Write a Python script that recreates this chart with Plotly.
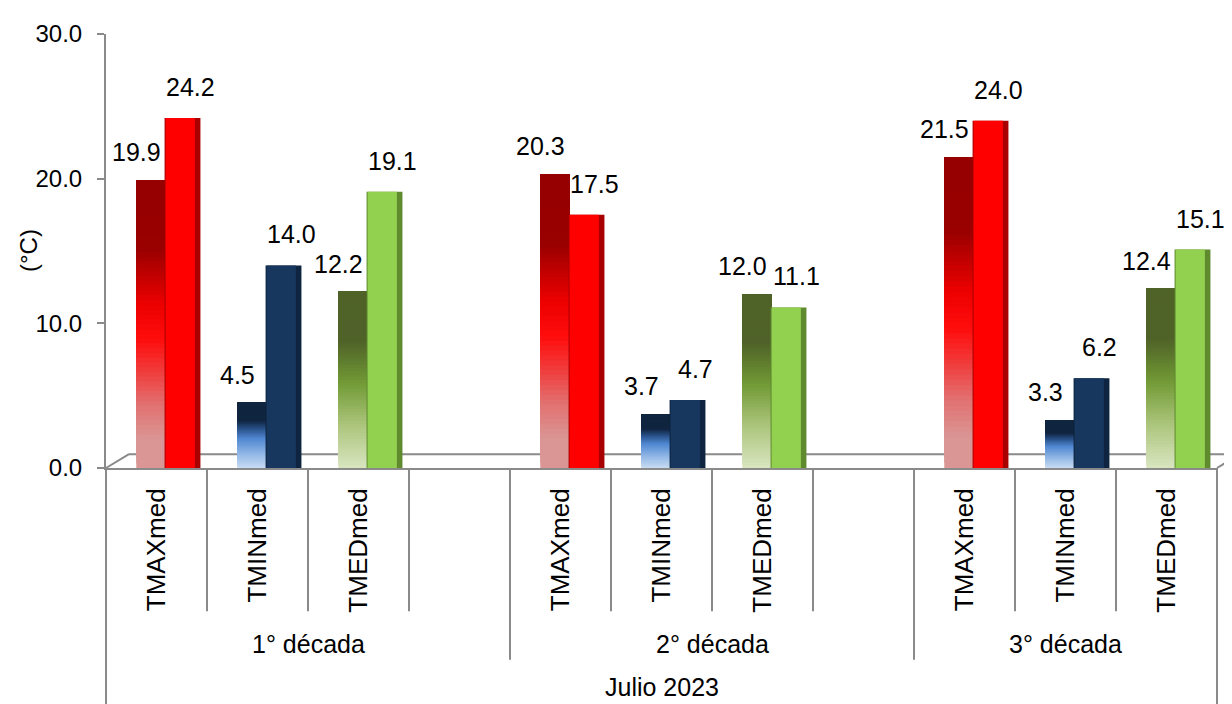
import plotly.graph_objects as go

# ---------------- data ----------------
decadas = ["1° década", "2° década", "3° década"]
variables = ["TMAXmed", "TMINmed", "TMEDmed"]
serie_1 = [19.9, 4.5, 12.2, 20.3, 3.7, 12.0, 21.5, 3.3, 12.4]
serie_2 = [24.2, 14.0, 19.1, 17.5, 4.7, 11.1, 24.0, 6.2, 15.1]
mes = "Julio 2023"
y_ticks = [0, 10, 20, 30]

# ---------------- styles ----------------
FONT = "Liberation Sans, Arial, sans-serif"
GRAY = "#8a8a8a"
grad = {
    "TMAXmed": [(0, (217, 150, 148)), (0.1, (217, 150, 148)), (0.22, (226, 112, 112)),
                (0.33, (240, 62, 62)), (0.45, (255, 12, 12)), (0.57, (236, 0, 0)),
                (0.76, (153, 0, 0)), (1, (150, 0, 0))],
    "TMINmed": [(0, (200, 219, 242)), (0.2, (150, 186, 231)), (0.45, (80, 136, 210)),
                (0.6, (42, 82, 138)), (0.73, (16, 37, 63)), (1, (16, 37, 63))],
    "TMEDmed": [(0, (217, 229, 192)), (0.25, (170, 196, 122)), (0.47, (116, 156, 56)),
                (0.6, (96, 126, 46)), (0.72, (79, 98, 40)), (1, (79, 98, 40))],
}
solid = {"TMAXmed": "#ff0000", "TMINmed": "#17375e", "TMEDmed": "#92d050"}
side = {"TMAXmed": "#a80000", "TMINmed": "#0e2440", "TMEDmed": "#5f8a2e"}


def interp(stops, t):
    for (t0, c0), (t1, c1) in zip(stops[:-1], stops[1:]):
        if t0 <= t <= t1:
            f = 0 if t1 == t0 else (t - t0) / (t1 - t0)
            c = [round(a + (b - a) * f) for a, b in zip(c0, c1)]
            return f"rgb({c[0]},{c[1]},{c[2]})"
    c = stops[-1][1]
    return f"rgb({c[0]},{c[1]},{c[2]})"


# slot layout: 4 slots per decade (3 variables + an empty one), last decade has 3
slot_x, slot_var = [], []
for d in range(len(decadas)):
    for v, name in enumerate(variables):
        slot_x.append(d * 4 + v)
        slot_var.append(name)
n_slots = 4 * (len(decadas) - 1) + len(variables)
xmin, xmax = -0.5, n_slots - 0.5

fig = go.Figure()

# left (gradient) bars, drawn as overlapping layers
N = 60
for k in range(N):
    fig.add_trace(go.Bar(
        x=slot_x,
        base=[v * k / N for v in serie_1],
        y=[v * (N - k) / N for v in serie_1],
        offset=-0.2, width=0.29,
        marker=dict(color=[interp(grad[n], (k + 0.5) / N) for n in slot_var],
                    line=dict(width=0)),
        showlegend=False, hoverinfo="skip",
    ))

# right bar side face
fig.add_trace(go.Bar(
    x=slot_x, y=serie_2, offset=0.08, width=0.355,
    marker=dict(color=[side[n] for n in slot_var], line=dict(width=0)),
    showlegend=False, hoverinfo="skip",
))
# right (solid) bars
fig.add_trace(go.Bar(
    x=slot_x, y=serie_2, offset=0.09, width=0.29,
    marker=dict(color=[solid[n] for n in slot_var], line=dict(width=0)),
    showlegend=False, name="Serie 2",
))

# data labels
ann = []
for x, v in zip(slot_x, serie_1):
    ann.append(dict(x=x, y=v, xref="x", yref="y", text=f"{v:.1f}", showarrow=False,
                    xanchor="center", yanchor="bottom", xshift=-20, yshift=12,
                    font=dict(size=25, color="#000000", family=FONT)))
for x, v in zip(slot_x, serie_2):
    ann.append(dict(x=x, y=v, xref="x", yref="y", text=f"{v:.1f}", showarrow=False,
                    xanchor="center", yanchor="bottom", xshift=34, yshift=15,
                    font=dict(size=25, color="#000000", family=FONT)))

# The page body has an 8px margin; the figure is sized so it ends at the window edge.
W, HT = 1224, 696
ML, MR, MT, MB = 98, 15, 21, 236
PW = W - ML - MR
H = float(HT - MT - MB)
Y0 = MT + H  # pixel row of the x axis in figure coordinates

# decade labels and month label
for d, name in enumerate(decadas):
    first = d * 4 - 0.5
    last = min(d * 4 + 3.5, xmax)
    ann.append(dict(x=(first + last) / 2, y=-(646 - 8 - Y0) / H, xref="x", yref="paper",
                    text=name, showarrow=False, xanchor="center", yanchor="middle",
                    font=dict(size=25, color="#000000", family=FONT)))
ann.append(dict(x=(xmin + xmax) / 2, y=-(690 - 8 - Y0) / H, xref="x", yref="paper",
                text=mes, showarrow=False, xanchor="center", yanchor="middle",
                font=dict(size=25, color="#000000", family=FONT)))
# y title
ann.append(dict(x=-(ML - 20) / PW, y=0.5, xref="paper", yref="paper", text="(°C)",
                textangle=-90, showarrow=False, xanchor="center", yanchor="middle",
                font=dict(size=24, color="#000000", family=FONT)))

# separators below the axis
shapes = []


def px(xv):
    return (xv - xmin) / (xmax - xmin)


for k in range(n_slots + 1):
    b = xmin + k
    if k == 0 or k == n_slots:
        yb = -(HT + 10 - Y0) / H
    elif k % 4 == 0:
        yb = -(662 - 8 - Y0) / H
    else:
        yb = -(613 - 8 - Y0) / H
    shapes.append(dict(type="line", xref="paper", yref="paper", x0=px(b), x1=px(b),
                       y0=0, y1=yb, line=dict(color=GRAY, width=2)))

# 3D floor (back edge and diagonals)
dx, dy = 23 / PW, 14 / H
shapes.append(dict(type="line", xref="paper", yref="paper", x0=dx, x1=1 + dx, y0=dy, y1=dy,
                   line=dict(color=GRAY, width=2), layer="below"))
shapes.append(dict(type="line", xref="paper", yref="paper", x0=0, x1=dx, y0=0, y1=dy,
                   line=dict(color=GRAY, width=2), layer="below"))
shapes.append(dict(type="line", xref="paper", yref="paper", x0=1, x1=1 + dx, y0=0, y1=dy,
                   line=dict(color=GRAY, width=2), layer="below"))

fig.update_layout(
    barmode="overlay",
    width=W, height=HT,
    margin=dict(l=ML, r=MR, t=MT, b=MB),
    paper_bgcolor="white", plot_bgcolor="white",
    font=dict(family=FONT, color="#000000"),
    annotations=ann, shapes=shapes,
    showlegend=False,
)
fig.update_xaxes(
    range=[xmin, xmax], tickmode="array", tickvals=slot_x, ticktext=slot_var,
    tickangle=-90, ticks="", showline=True, linecolor=GRAY, linewidth=2,
    showgrid=False, zeroline=False, tickfont=dict(size=26, color="#000000", family=FONT),
    ticklabelstandoff=8,
)
fig.update_yaxes(
    range=[0, 30], tickmode="array", tickvals=y_ticks, tickformat=".1f",
    ticks="outside", ticklen=7, tickwidth=2, tickcolor=GRAY,
    showline=True, linecolor=GRAY, linewidth=2, showgrid=False, zeroline=False,
    tickfont=dict(size=24, color="#000000", family=FONT), ticklabelstandoff=10,
)

fig.write_html("out.html")
